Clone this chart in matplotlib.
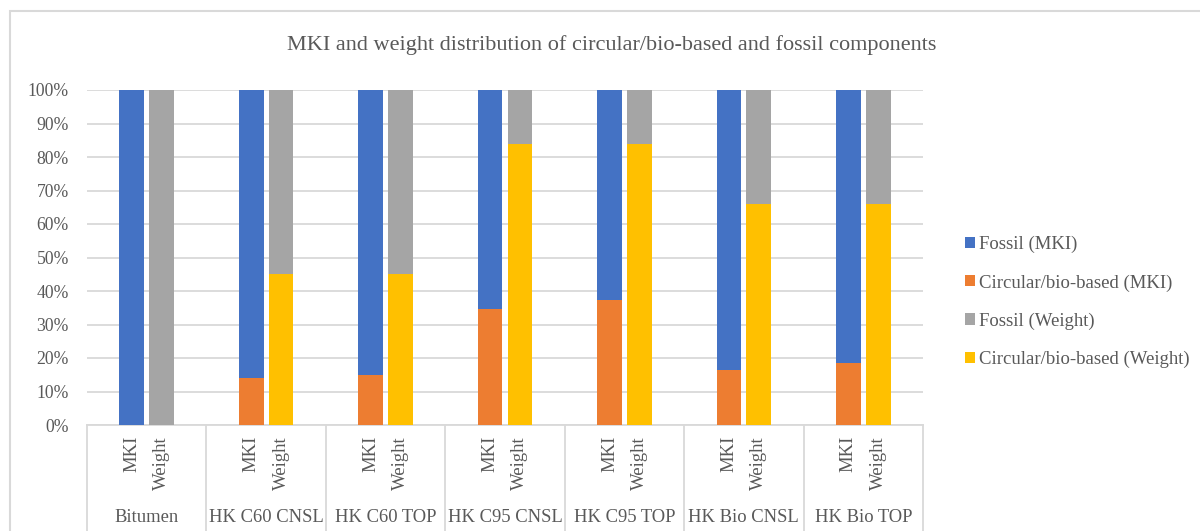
import matplotlib
matplotlib.use("Agg")
import matplotlib.pyplot as plt
from matplotlib.patches import Patch, Rectangle
from matplotlib.lines import Line2D
import numpy as np

groups = ["Bitumen", "HK C60 CNSL", "HK C60 TOP", "HK C95 CNSL",
          "HK C95 TOP", "HK Bio CNSL", "HK Bio TOP"]
sub_labels = ["MKI", "Weight"]

# shares in percent, each bar stacks to 100
circular_mki = [0, 14, 15, 34.7, 37.2, 16.3, 18.4]
fossil_mki = [100, 86, 85, 65.3, 62.8, 83.7, 81.6]
circular_weight = [0, 45, 45, 84, 84, 66, 66]
fossil_weight = [100, 55, 55, 16, 16, 34, 34]

series_names = ["Fossil (MKI)", "Circular/bio-based (MKI)",
                "Fossil (Weight)", "Circular/bio-based (Weight)"]
colors = ["#4472C4", "#ED7D31", "#A5A5A5", "#FFC000"]

text_color = "#595959"
line_color = "#D9D9D9"

plt.rcParams["font.family"] = ["Liberation Serif", "DejaVu Serif"]

fig = plt.figure(figsize=(12, 5.31), dpi=100)
W, H = 1200, 531

# outer chart frame
fig.patches.append(Rectangle((10 / W, -0.01), 1.0, 1 - 11 / H + 0.01,
                             transform=fig.transFigure, fill=False,
                             edgecolor=line_color, linewidth=1.5))

ax = fig.add_axes([87 / W, 1 - 425 / H, (923 - 87) / W, (425 - 90) / H])

x = np.arange(len(groups))
off = 0.125
bw = 0.207

ax.bar(x - off, circular_mki, bw, color=colors[1], zorder=3)
ax.bar(x - off, fossil_mki, bw, bottom=circular_mki, color=colors[0], zorder=3)
ax.bar(x + off, circular_weight, bw, color=colors[3], zorder=3)
ax.bar(x + off, fossil_weight, bw, bottom=circular_weight, color=colors[2], zorder=3)

ax.set_xlim(-0.5, len(groups) - 0.5)
ax.set_ylim(0, 100)
ax.set_yticks(np.arange(0, 101, 10))
ax.set_yticklabels([f"{v}%" for v in range(0, 101, 10)])
ax.grid(axis="y", color=line_color, linewidth=1.3, zorder=0)
ax.tick_params(axis="y", length=0, pad=13, labelsize=12.7, labelcolor=text_color)
ax.tick_params(axis="x", length=0, labelbottom=False)
for side in ["top", "right", "left"]:
    ax.spines[side].set_visible(False)
ax.spines["bottom"].set_color(line_color)
ax.spines["bottom"].set_linewidth(1.3)

# two-level category axis
trans = ax.get_xaxis_transform()
ybot = -(H - 425) / (425 - 90) - 0.02
for b in np.arange(-0.5, len(groups)):
    ax.add_line(Line2D([b, b], [0, ybot], transform=trans, color=line_color,
                       linewidth=1.3, clip_on=False))

sub_y = -(436 - 425) / (425 - 90)
grp_y = -(517 - 425) / (425 - 90)
for i, g in enumerate(groups):
    for j, s in enumerate(sub_labels):
        ax.text(i + (2 * j - 1) * off, sub_y, s, transform=trans, rotation=90,
                ha="center", va="top", fontsize=13.5, color=text_color)
    ax.text(i, grp_y, g, transform=trans, ha="center", va="center",
            fontsize=13.4, color=text_color)

fig.text(612 / W, 1 - 45 / H,
         "MKI and weight distribution of circular/bio-based and fossil components",
         ha="center", va="center", fontsize=16, color=text_color)

handles = [Patch(facecolor=c, edgecolor="none") for c in colors]
leg = fig.legend(handles, series_names, loc="center left",
                 bbox_to_anchor=(948 / W, 1 - 302 / H), frameon=False,
                 fontsize=13.5, handlelength=0.55, handleheight=0.55,
                 handletextpad=0.2, labelspacing=1.12)
for t in leg.get_texts():
    t.set_color(text_color)

fig.savefig("out.png", dpi=100)
